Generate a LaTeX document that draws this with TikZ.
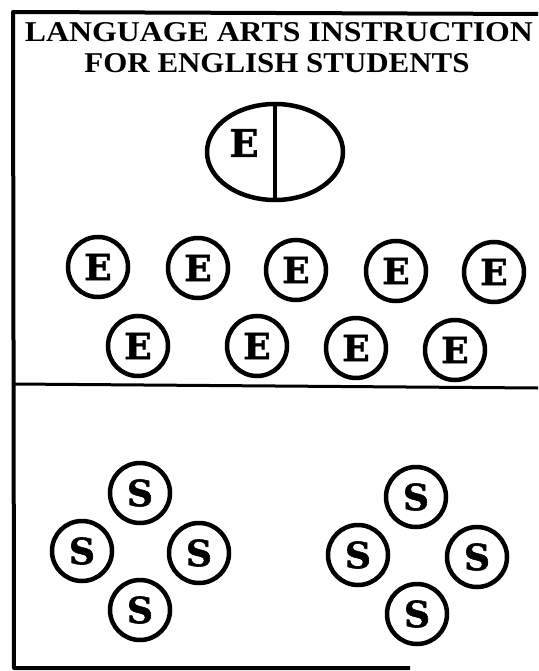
\documentclass[tikz,border=0pt]{standalone}
\usepackage{fontspec}
\usepackage{graphicx}
\usetikzlibrary{shapes}
\newfontfamily\markfont{DejaVu Serif}[BoldFeatures={FakeBold=1.6}]
\newfontfamily\titlefont{Liberation Serif}

\begin{document}
\begin{tikzpicture}[x=1pt,y=-1pt,
  frameline/.style={line width=4pt},
  pupil/.style={draw, circle, line width=4.5pt, minimum size=60pt, inner sep=0pt,
    font=\markfont\bfseries\fontsize{36}{36}\selectfont}]
\useasboundingbox (0,0) rectangle (538,671);
% \draw [help lines,color=green] (0,0) grid [step=50] (538,671);
\draw [frameline, join=round] (538,14) -- (13,12) -- (14,668) -- (410,668);
\draw [line width=3pt] (13,384) -- (538,388);
% title
\node (title1) at (279,32) {\resizebox{508pt}{19pt}{\titlefont\bfseries LANGUAGE ARTS INSTRUCTION}};
\node (title2) at (277,63) {\resizebox{385pt}{19pt}{\titlefont\bfseries FOR ENGLISH STUDENTS}};
% teacher table
\node [draw, ellipse, line width=4.5pt, minimum width=136pt, minimum height=96pt, inner sep=0pt] (table) at (275,152) {};
\draw [line width=3.5pt] (table.north) -- (table.south);
\node [font=\markfont\bfseries\fontsize{38}{38}\selectfont, inner sep=0pt] (teacher) at (244,143) {E};
% english students
\node [pupil] (e1) at (98,267) {E};
\node [pupil] (e2) at (198,268) {E};
\node [pupil] (e3) at (296,270) {E};
\node [pupil] (e4) at (396,271) {E};
\node [pupil] (e5) at (494,272) {E};
\node [pupil] (e6) at (138,346) {E};
\node [pupil] (e7) at (257,346) {E};
\node [pupil] (e8) at (356,348) {E};
\node [pupil] (e9) at (455,350) {E};
% small groups
\node [pupil] (sa1) at (140,493) {S};
\node [pupil] (sa2) at (82,551) {S};
\node [pupil] (sa3) at (199,553) {S};
\node [pupil] (sa4) at (140,610) {S};
\node [pupil] (sb1) at (416,497) {S};
\node [pupil] (sb2) at (358,555) {S};
\node [pupil] (sb3) at (477,557) {S};
\node [pupil] (sb4) at (417,614) {S};
\end{tikzpicture}
\end{document}
